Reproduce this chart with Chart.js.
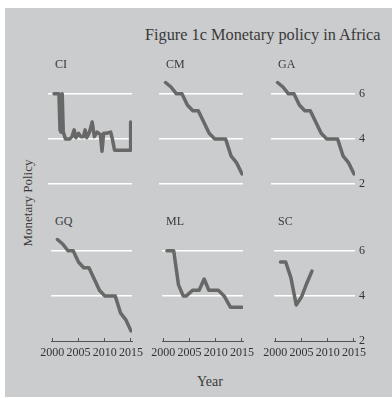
<!DOCTYPE html>
<html>
<head>
<meta charset="utf-8">
<script src="https://cdn.jsdelivr.net/npm/chart.js@4"></script>
<style>
  body { margin: 0; background: #fff; font-family: "Liberation Serif", "Times New Roman", serif; }
  #frame { position: absolute; left: 5px; top: 8px; width: 387px; height: 389px; background: #cbcccd; }
  canvas, .lbl { position: absolute; }
  .lbl { color: #3a3a3a; white-space: nowrap; line-height: 1; }
</style>
</head>
<body>
<div id="frame"></div>
<div class="lbl" style="left:145px; top:27px; font-size:16.3px;">Figure 1c Monetary policy in Africa</div>
<div class="lbl" style="left:210px; top:382px; font-size:14px; transform: translate(-50%,-50%);">Year</div>
<div class="lbl" style="left:27px; top:203px; font-size:13px; transform: translate(-50%,-50%) rotate(-90deg);">Monetary Policy</div>
<script>
const tickYears = [2000, 2005, 2010, 2015];
const tickRates = [2, 4, 6];

// Côte d'Ivoire, jagged series
const ciYears = [2000.9, 2001.8, 2002.0, 2002.2, 2002.4, 2002.6, 2003.0, 2003.8, 2004.2, 2004.6, 2004.9, 2005.4, 2005.8, 2006.3, 2006.6, 2006.9, 2007.4, 2007.9, 2008.3, 2008.8, 2009.4, 2009.7, 2010.0, 2010.5, 2011.3, 2011.6, 2012.0, 2014.9, 2014.95];
const ciRate  = [6.0, 6.0, 4.4, 4.3, 6.0, 4.3, 4.0, 4.0, 4.1, 4.4, 4.05, 4.25, 4.1, 4.1, 4.4, 4.05, 4.3, 4.75, 4.1, 4.3, 4.2, 3.45, 4.25, 4.25, 4.3, 4.0, 3.5, 3.5, 4.75];

// CM, GA and GQ share the same rate
const cemacYears = [2001, 2002, 2003, 2004, 2005, 2006, 2007, 2008, 2009, 2010, 2011, 2012, 2013, 2014, 2015];
const cemacRate  = [6.5, 6.3, 6.0, 6.0, 5.5, 5.25, 5.25, 4.75, 4.25, 4.0, 4.0, 4.0, 3.25, 2.95, 2.45];

const mlYears = [2000.7, 2002.0, 2002.9, 2003.8, 2004.4, 2005.6, 2006.85, 2007.8, 2008.7, 2010.5, 2011.6, 2012.8, 2015.0];
const mlRate  = [6.0, 6.0, 4.5, 4.0, 4.0, 4.25, 4.25, 4.75, 4.25, 4.25, 4.0, 3.5, 3.5];

const scYears = [2001, 2002, 2003, 2004, 2005, 2006, 2007];
const scRate  = [5.5, 5.5, 4.8, 3.6, 3.95, 4.55, 5.1];

const panels = [
  { code: 'CI', years: ciYears, rate: ciRate, col: 0, row: 0 },
  { code: 'CM', years: cemacYears, rate: cemacRate, col: 1, row: 0 },
  { code: 'GA', years: cemacYears, rate: cemacRate, col: 2, row: 0 },
  { code: 'GQ', years: cemacYears, rate: cemacRate, col: 0, row: 1 },
  { code: 'ML', years: mlYears, rate: mlRate, col: 1, row: 1 },
  { code: 'SC', years: scYears, rate: scRate, col: 2, row: 1 },
];

const colLeft = [48, 159, 271];
const rowTop = [78, 235];
const plotW = 84, plotH = 106, padL = 16, padT = 14, axisW = 36, axisH = 24;
const serif = { family: '"Liberation Serif", "Times New Roman", serif', size: 12 };

function drawPanel(p) {
  const left = colLeft[p.col], top = rowTop[p.row];
  const bottomRow = p.row === 1, rightCol = p.col === 2;

  const label = document.createElement('div');
  label.className = 'lbl';
  label.style.left = (left + 7) + 'px';
  label.style.top = (top - 20) + 'px';
  label.style.fontSize = '12px';
  label.textContent = p.code;
  document.body.appendChild(label);

  const canvas = document.createElement('canvas');
  canvas.width = padL + plotW + axisW;
  canvas.height = padT + plotH + axisH;
  canvas.style.left = (left - padL) + 'px';
  canvas.style.top = (top - padT) + 'px';
  document.body.appendChild(canvas);

  new Chart(canvas, {
    type: 'line',
    data: {
      datasets: [{
        data: p.years.map((y, i) => ({ x: y, y: p.rate[i] })),
        borderColor: '#686868',
        borderWidth: 3.5,
        pointRadius: 0,
        tension: 0,
        fill: false,
        borderJoinStyle: 'round',
        borderCapStyle: 'round',
      }],
    },
    options: {
      responsive: false,
      animation: false,
      layout: { padding: { left: padL, top: padT, right: 0, bottom: 0 } },
      plugins: { legend: { display: false }, tooltip: { enabled: false } },
      scales: {
        x: {
          type: 'linear',
          min: 1999.8,
          max: 2015.2,
          afterBuildTicks: s => { s.ticks = tickYears.map(v => ({ value: v })); },
          afterFit: s => { s.height = axisH; },
          grid: { display: bottomRow, drawOnChartArea: false, tickLength: -3, color: '#555' },
          border: { display: bottomRow, color: '#555', width: 1 },
          ticks: { display: bottomRow, padding: 8, color: '#333', font: serif, maxRotation: 0, callback: v => String(v) },
        },
        y: {
          position: 'right',
          min: 2,
          max: 6.7,
          afterBuildTicks: s => { s.ticks = tickRates.map(v => ({ value: v })); },
          afterFit: s => { s.width = axisW; },
          grid: {
            color: ctx => (bottomRow && ctx.tick && ctx.tick.value === 2) ? 'rgba(0,0,0,0)' : '#ffffff',
            lineWidth: 1.5,
            drawTicks: false,
          },
          border: { display: false },
          ticks: { display: rightCol, padding: 4, color: '#333', font: serif },
        },
      },
    },
  });
}

panels.forEach(drawPanel);
</script>
</body>
</html>
